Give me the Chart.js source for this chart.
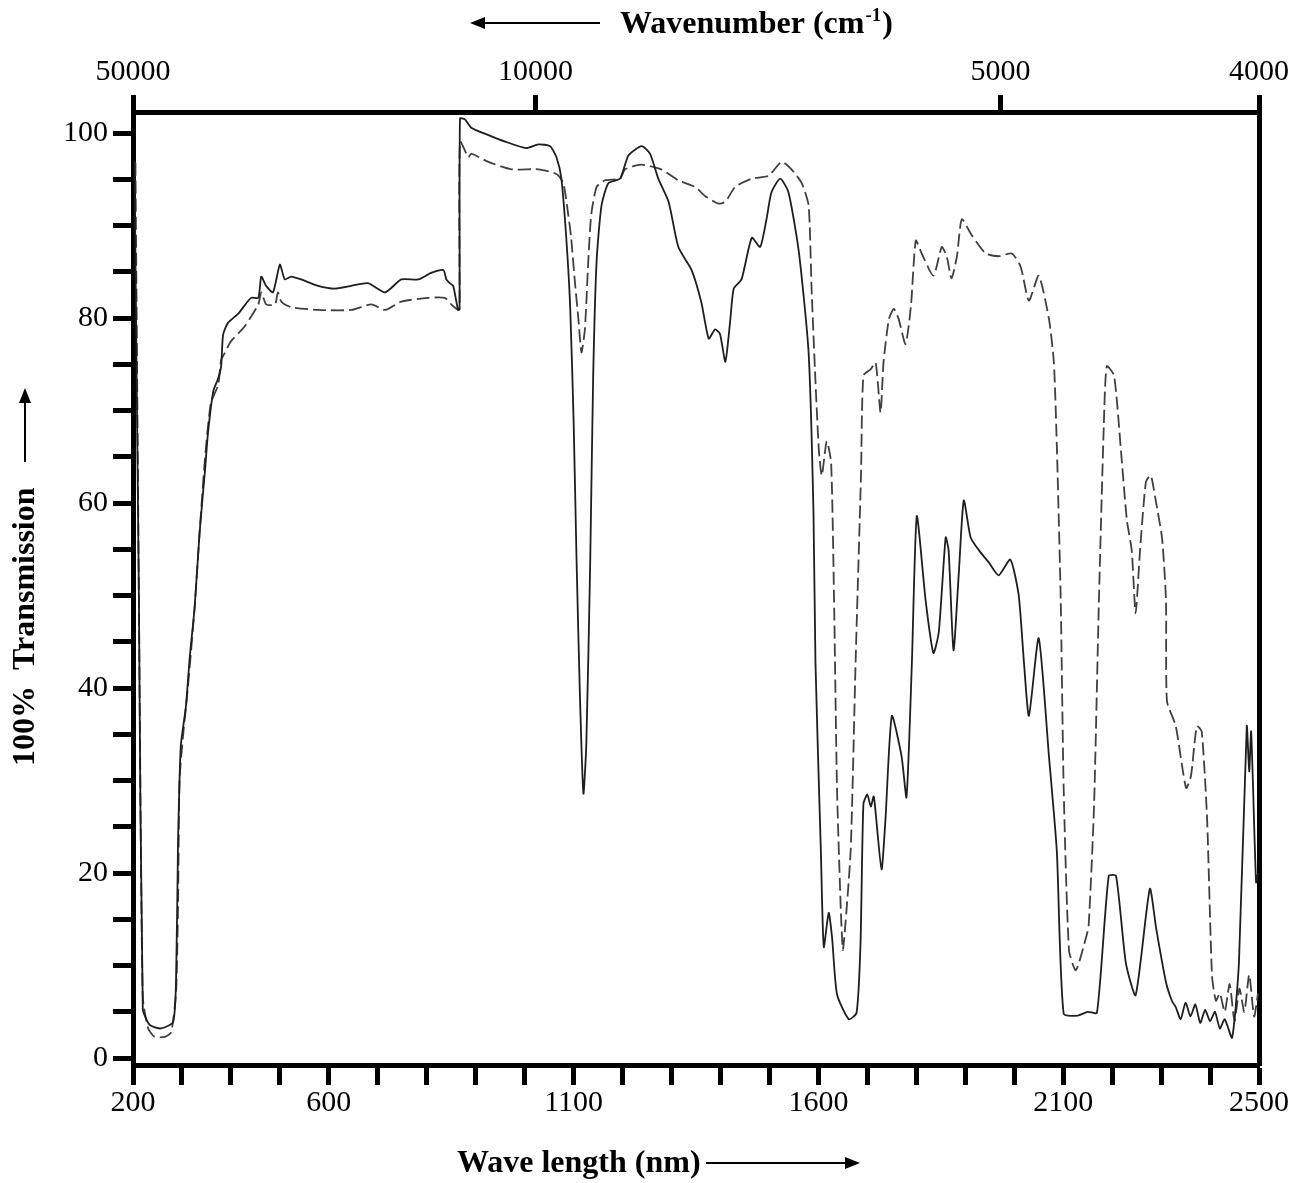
<!DOCTYPE html>
<html>
<head>
<meta charset="utf-8">
<title>Transmission spectrum</title>
<script src="https://cdn.jsdelivr.net/npm/chart.js@4.4.1/dist/chart.umd.min.js"></script>
<style>
  html, body { margin: 0; padding: 0; background: #fff; }
  canvas { display: block; }
</style>
</head>
<body>
<canvas id="chartCanvas" width="1305" height="1183"></canvas>
<script>
/* ═══════════════════════════════════════════════════════════
   Transmission spectrum, 200 – 2500 nm (solid and dashed sample)
═══════════════════════════════════════════════════════════ */

// ── Solid curve: wavelength (nm) / transmission (%) ──
var solidWavelength = [
  203, 212, 220, 234, 257, 282, 288, 292, 295, 298, 308, 316, 326, 336, 347, 353, 364, 374, 380, 384,
  394, 415, 441, 456, 462, 472, 486, 500, 510, 523, 543, 578, 612, 646, 680, 715, 748, 783, 809, 834,
  840, 847, 854, 864, 867, 868, 878, 891, 926, 960, 1003, 1028, 1052, 1065, 1075, 1085, 1093, 1100, 1106, 1113,
  1120, 1126, 1134, 1140, 1147, 1157, 1171, 1195, 1212, 1239, 1256, 1273, 1294, 1314, 1341, 1361, 1376, 1389, 1399, 1410,
  1420, 1427, 1443, 1464, 1481, 1494, 1504, 1522, 1539, 1560, 1580, 1590, 1594, 1605, 1611, 1621, 1628, 1638, 1662, 1678,
  1686, 1692, 1700, 1707, 1713, 1717, 1729, 1737, 1750, 1770, 1780, 1791, 1801, 1819, 1835, 1846, 1860, 1866, 1876, 1887,
  1897, 1911, 1928, 1948, 1968, 1992, 2009, 2020, 2030, 2050, 2071, 2087, 2101, 2130, 2150, 2169, 2193, 2208, 2228, 2248,
  2277, 2290, 2310, 2322, 2330, 2340, 2350, 2360, 2370, 2380, 2390, 2400, 2410, 2420, 2430, 2445, 2459, 2475, 2480, 2484,
  2494, 2498
];
var solidTransmission = [
  97, 50, 5.3, 3.6, 3.2, 3.9, 8.6, 23.4, 30, 34, 38, 43.4, 48.8, 56.8, 63.5, 67.5, 72.1, 73.5, 74.8, 78.2,
  79.5, 80.5, 82.2, 82.2, 84.5, 83.5, 82.8, 85.8, 84.2, 84.5, 84.2, 83.5, 83.2, 83.5, 83.8, 82.8, 84.2, 84.2, 84.9, 85.2,
  84.2, 83.8, 83.5, 80.9, 81, 101.6, 101.5, 100.6, 99.8, 99.1, 98.4, 98.8, 98.6, 97.4, 95.1, 88.7, 81.2, 68.9, 53.9, 39,
  28.6, 34, 53.9, 73.8, 86.2, 92.2, 94.6, 95.1, 97.6, 98.6, 97.8, 95.1, 92.6, 87.7, 85.2, 81.7, 77.8, 78.8, 78.3, 75.3,
  79.8, 83.2, 84.2, 88.7, 87.7, 90.7, 93.6, 95.1, 93.6, 87.2, 76.3, 58.9, 42.8, 22.5, 12, 15.7, 13, 6.9, 4.2, 4.9,
  12.3, 27.5, 28.5, 27.2, 28.3, 26.5, 20.4, 25.8, 37, 32.6, 28.2, 42.8, 58.6, 49.5, 43.8, 46.1, 56.3, 54.9, 44.1, 52.6,
  60.3, 56.3, 54.9, 53.6, 52.2, 53.9, 50.1, 42.7, 37, 45.4, 32.6, 22.4, 4.8, 4.6, 5, 4.9, 19.7, 19.7, 10.3, 6.8,
  18.3, 14, 8.2, 6.2, 5.5, 4.2, 6, 4.5, 5.8, 3.8, 5.2, 4, 5, 3.2, 4.2, 2.2, 10.3, 35.9, 31, 35.3,
  19, 20
];

// ── Dashed curve: wavelength (nm) / transmission (%) ──
var dashedWavelength = [
  205, 210, 214, 220, 231, 244, 265, 278, 288, 292, 295, 302, 312, 326, 336, 347, 359, 374, 380, 387,
  400, 428, 456, 462, 472, 490, 496, 503, 523, 578, 646, 687, 715, 748, 803, 837, 850, 864, 867, 868,
  885, 891, 926, 973, 1028, 1065, 1079, 1089, 1095, 1103, 1110, 1116, 1123, 1130, 1136, 1147, 1164, 1195, 1205, 1239,
  1279, 1314, 1348, 1369, 1396, 1410, 1430, 1464, 1498, 1525, 1545, 1566, 1580, 1586, 1594, 1601, 1607, 1617, 1626, 1632,
  1638, 1646, 1650, 1654, 1666, 1676, 1687, 1692, 1707, 1717, 1727, 1733, 1744, 1754, 1764, 1778, 1789, 1799, 1811, 1835,
  1852, 1862, 1872, 1883, 1893, 1913, 1942, 1968, 1995, 2013, 2030, 2050, 2071, 2081, 2087, 2095, 2101, 2112, 2126, 2146,
  2152, 2163, 2173, 2183, 2189, 2204, 2218, 2230, 2240, 2248, 2257, 2269, 2279, 2289, 2302, 2310, 2312, 2330, 2351, 2361,
  2373, 2383, 2394, 2404, 2412, 2420, 2430, 2440, 2450, 2460, 2470, 2480, 2490, 2498
];
var dashedTransmission = [
  96.8, 63.5, 36.6, 6.6, 3.2, 2.3, 2.3, 2.8, 7.2, 16.6, 30, 34.7, 40, 48.8, 56.8, 64.8, 70.8, 72.8, 75.5, 76.2,
  77.5, 79.1, 81.5, 82.8, 81.5, 81.5, 82.8, 81.8, 81.2, 80.9, 80.9, 81.5, 80.9, 81.8, 82.2, 82.2, 81.5, 80.9, 81, 99.1,
  97.4, 97.8, 96.9, 96.1, 96.1, 95.6, 94.6, 91.2, 88.7, 83.7, 79.8, 76.3, 78.8, 86.2, 91.2, 94.2, 94.9, 95.1, 96.1, 96.6,
  96.1, 94.9, 94.2, 93.2, 92.4, 92.6, 94.2, 95.1, 95.4, 96.9, 96.1, 94.6, 92.2, 83.3, 73.2, 65.7, 63, 66.7, 64.4, 49.5,
  29.2, 15.7, 11.7, 13.7, 22.5, 42.8, 63, 73.8, 74.5, 75.2, 69.8, 75.2, 79.9, 81, 79.9, 77.2, 81.3, 88.4, 87, 84.6,
  87.7, 86.7, 84.3, 86.7, 90.7, 89, 87, 86.7, 87, 85.6, 81.9, 84.6, 79.9, 75.2, 66.3, 49.5, 29.2, 11.6, 9.5, 12.9,
  14.3, 27.2, 49.5, 68.4, 74.8, 73.8, 65.7, 58.2, 54.9, 48.1, 54.9, 62.3, 63, 60.3, 56.2, 49.5, 38.6, 35.9, 29.2, 30.5,
  35.9, 35.3, 25.8, 8.9, 6.2, 7, 5, 8, 4, 7.5, 5, 9, 4.5, 7
];

// ── Axis ticks ──
var wavelengthTicks = [200, 300, 400, 500, 600, 700, 800, 900, 1000, 1100, 1200, 1300, 1400, 1500,
  1600, 1700, 1800, 1900, 2000, 2100, 2200, 2300, 2400, 2500];
var wavelengthLabelled = [200, 600, 1100, 1600, 2100, 2500];
var wavenumberTickPositions = [200, 1022, 1972, 2500];   // where the top ticks sit on the nm scale
var wavenumberTickLabels = ['50000', '10000', '5000', '4000'];
var transmissionTicks = [0, 5, 10, 15, 20, 25, 30, 35, 40, 45, 50, 55, 60, 65, 70, 75, 80, 85, 90, 95, 100];
var transmissionLabelled = [0, 20, 40, 60, 80, 100];

(function() {

  var TICK_FONT = { family: '"Liberation Serif", "Times New Roman", serif', size: 30 };
  var TITLE_FONT = 'bold 32px "Liberation Serif", "Times New Roman", serif';

  function toPoints(xs, ys) {
    return xs.map(function(x, i) { return { x: x, y: ys[i] }; });
  }

  // ── Arrow helper ──
  function drawArrow(ctx, x1, y1, x2, y2) {
    var ang = Math.atan2(y2 - y1, x2 - x1);
    var head = 15, half = 6;
    var bx = x2 - head * Math.cos(ang), by = y2 - head * Math.sin(ang);
    ctx.beginPath();
    ctx.moveTo(x1, y1);
    ctx.lineTo(bx, by);
    ctx.lineWidth = 2;
    ctx.stroke();
    ctx.beginPath();
    ctx.moveTo(x2, y2);
    ctx.lineTo(bx + half * Math.sin(ang), by - half * Math.cos(ang));
    ctx.lineTo(bx - half * Math.sin(ang), by + half * Math.cos(ang));
    ctx.closePath();
    ctx.fill();
  }

  // ── Axis titles with arrows ──
  var axisTitles = {
    id: 'axisTitles',
    afterDraw: function(chart) {
      var ctx = chart.ctx;
      ctx.save();
      ctx.fillStyle = '#000';
      ctx.strokeStyle = '#000';
      ctx.textBaseline = 'alphabetic';
      ctx.textAlign = 'left';

      // top: Wavenumber (cm-1)
      ctx.font = TITLE_FONT;
      var x = 620;
      ctx.fillText('Wavenumber (cm', x, 33);
      x += ctx.measureText('Wavenumber (cm').width;
      ctx.font = 'bold 19px "Liberation Serif", serif';
      ctx.fillText('-1', x + 1, 21);
      x += ctx.measureText('-1').width + 2;
      ctx.font = TITLE_FONT;
      ctx.fillText(')', x, 33);
      drawArrow(ctx, 600, 23, 470, 23);

      // bottom: Wave length (nm)
      ctx.fillText('Wave length (nm)', 457, 1172);
      drawArrow(ctx, 706, 1163, 860, 1163);

      // left: 100%  Transmission
      ctx.save();
      ctx.translate(34, 766);
      ctx.rotate(-Math.PI / 2);
      ctx.fillText('100%  Transmission', 0, 0);
      ctx.restore();
      drawArrow(ctx, 25, 462, 25, 388);

      ctx.restore();
    }
  };

  var tickGrid = function(len) {
    return {
      display: true,
      drawOnChartArea: false,
      drawTicks: true,
      tickLength: len,
      tickWidth: 5,
      tickColor: '#000'
    };
  };
  var frameBorder = { display: true, width: 5, color: '#000' };

  var ctx = document.getElementById('chartCanvas').getContext('2d');
  new Chart(ctx, {
    type: 'line',
    data: {
      datasets: [
        {
          label: 'Solid',
          data: toPoints(solidWavelength, solidTransmission),
          borderColor: '#1e1e1e',
          borderWidth: 1.8,
          pointRadius: 0,
          tension: 0.2,
          fill: false
        },
        {
          label: 'Dashed',
          data: toPoints(dashedWavelength, dashedTransmission),
          borderColor: '#404040',
          borderWidth: 1.8,
          borderDash: [13, 5],
          pointRadius: 0,
          tension: 0.2,
          fill: false
        }
      ]
    },
    options: {
      responsive: false,
      animation: false,
      layout: { padding: { left: 0, right: 46, top: 0, bottom: 0 } },
      plugins: {
        legend: { display: false },
        tooltip: { enabled: false },
        title: { display: false }
      },
      scales: {
        x: {
          type: 'linear',
          position: 'bottom',
          min: 200,
          max: 2500,
          afterBuildTicks: function(axis) {
            axis.ticks = wavelengthTicks.map(function(v) { return { value: v }; });
          },
          afterFit: function(axis) { axis.height = 118; },
          ticks: {
            autoSkip: false,
            maxRotation: 0,
            padding: 0,
            color: '#000',
            font: TICK_FONT,
            callback: function(v) { return wavelengthLabelled.indexOf(v) >= 0 ? String(v) : ''; }
          },
          grid: tickGrid(20),
          border: frameBorder
        },
        x2: {
          type: 'linear',
          position: 'top',
          min: 200,
          max: 2500,
          afterBuildTicks: function(axis) {
            axis.ticks = wavenumberTickPositions.map(function(v) { return { value: v }; });
          },
          afterFit: function(axis) { axis.height = 112; },
          ticks: {
            autoSkip: false,
            maxRotation: 0,
            padding: 5,
            color: '#000',
            font: TICK_FONT,
            callback: function(v, i) { return wavenumberTickLabels[i]; }
          },
          grid: tickGrid(17),
          border: frameBorder
        },
        y: {
          type: 'linear',
          position: 'left',
          min: -0.75,
          max: 102.3,
          afterBuildTicks: function(axis) {
            axis.ticks = transmissionTicks.map(function(v) { return { value: v }; });
          },
          afterFit: function(axis) { axis.width = 133; },
          ticks: {
            autoSkip: false,
            padding: 5,
            color: '#000',
            font: TICK_FONT,
            callback: function(v) { return transmissionLabelled.indexOf(v) >= 0 ? String(v) : ''; }
          },
          grid: tickGrid(20),
          border: frameBorder
        },
        y2: {
          type: 'linear',
          position: 'right',
          min: -0.75,
          max: 102.3,
          afterFit: function(axis) { axis.width = 0; },
          ticks: { display: false },
          grid: { display: true, drawOnChartArea: false, drawTicks: false },
          border: frameBorder
        }
      }
    },
    plugins: [axisTitles]
  });

})();
</script>
</body>
</html>
